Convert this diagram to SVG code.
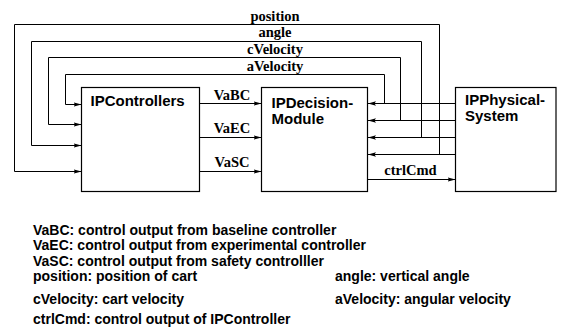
<svg xmlns="http://www.w3.org/2000/svg" width="566" height="327" viewBox="0 0 566 327">
<style>
.box{fill:#fff;stroke:#000;stroke-width:1.2}
.ln{fill:none;stroke:#000;stroke-width:1}
.nl{font-family:"Liberation Sans",Arial,sans-serif;font-weight:bold;font-size:15px;fill:#000}
.cl{font-family:"Liberation Serif","Times New Roman",serif;font-weight:bold;font-size:14.5px;fill:#000}
.lg{font-family:"Liberation Sans",Arial,sans-serif;font-weight:bold;font-size:14px;fill:#000}
</style>
<defs>
<marker id="ah" markerUnits="userSpaceOnUse" markerWidth="8" markerHeight="6" refX="8" refY="3" orient="auto">
<path d="M0,0.8 L8,3 L0,5.2 L1.5,3 z" fill="#000"/>
</marker>
</defs>
<g id="connectors">
<path class="ln" d="M455.5,154.5 H368" marker-end="url(#ah)"/>
<path class="ln" d="M439.5,154.5 V24.5 H14.5 V171.5 H81.5" marker-end="url(#ah)"/>
<path class="ln" d="M455.5,137.5 H368" marker-end="url(#ah)"/>
<path class="ln" d="M421.5,137.5 V41.5 H31.5 V145.5 H81.5" marker-end="url(#ah)"/>
<path class="ln" d="M455.5,120.5 H368" marker-end="url(#ah)"/>
<path class="ln" d="M400.5,120.5 V57.5 H48.5 V124.5 H81.5" marker-end="url(#ah)"/>
<path class="ln" d="M455.5,103.5 H368" marker-end="url(#ah)"/>
<path class="ln" d="M384.5,103.5 V74.5 H65.5 V104.5 H81.5" marker-end="url(#ah)"/>
<path class="ln" d="M199.5,103.5 H261.5" marker-end="url(#ah)"/>
<path class="ln" d="M199.5,137.5 H261.5" marker-end="url(#ah)"/>
<path class="ln" d="M199.5,171.5 H261.5" marker-end="url(#ah)"/>
<path class="ln" d="M367.5,179.5 H455.5" marker-end="url(#ah)"/>
<text class="cl" x="275" y="20.5" text-anchor="middle">position</text>
<text class="cl" x="275" y="37" text-anchor="middle">angle</text>
<text class="cl" x="275" y="53.5" text-anchor="middle">cVelocity</text>
<text class="cl" x="275" y="70.5" text-anchor="middle">aVelocity</text>
<text class="cl" x="232" y="99.5" text-anchor="middle">VaBC</text>
<text class="cl" x="232" y="133" text-anchor="middle">VaEC</text>
<text class="cl" x="232" y="166.5" text-anchor="middle">VaSC</text>
<text class="cl" x="410.5" y="175" text-anchor="middle">ctrlCmd</text>
</g>
<g id="IPControllers">
<rect class="box" x="81.5" y="87.5" width="118" height="104"/>
<text class="nl" x="90.5" y="105.5">IPControllers</text>
</g>
<g id="IPDecisionModule">
<rect class="box" x="261.5" y="87.5" width="106" height="104"/>
<text class="nl" x="271.5" y="108">IPDecision-</text>
<text class="nl" x="271.5" y="124">Module</text>
</g>
<g id="IPPhysicalSystem">
<rect class="box" x="455.5" y="87.5" width="100.5" height="104"/>
<text class="nl" x="465" y="105">IPPhysical-</text>
<text class="nl" x="465" y="121">System</text>
</g>
<g id="legend">
<text class="lg" x="33" y="234.5">VaBC: control output from baseline controller</text>
<text class="lg" x="33" y="250">VaEC: control output from experimental controller</text>
<text class="lg" x="33" y="265.5">VaSC: control output from safety controlller</text>
<text class="lg" x="33" y="280.5">position: position of cart</text>
<text class="lg" x="335" y="280.5">angle: vertical angle</text>
<text class="lg" x="33" y="304">cVelocity: cart velocity</text>
<text class="lg" x="335" y="304">aVelocity: angular velocity</text>
<text class="lg" x="33" y="323.5">ctrlCmd: control output of IPController</text>
</g>
</svg>
